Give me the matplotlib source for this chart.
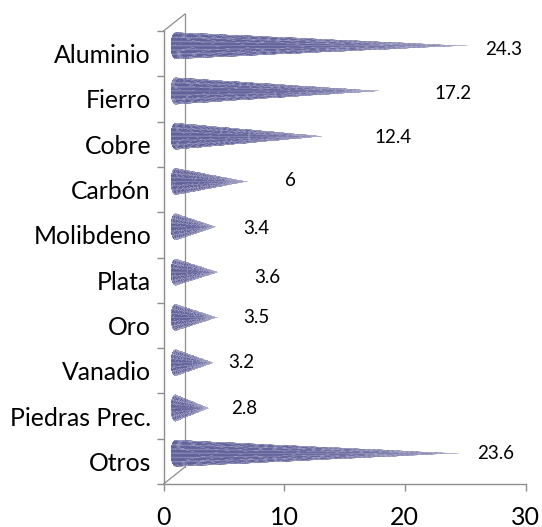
import numpy as np
import matplotlib
matplotlib.use('Agg')
import matplotlib.pyplot as plt
from matplotlib.transforms import ScaledTranslation

plt.rcParams['font.family'] = ['Lato', 'DejaVu Sans']

categories = ['Aluminio', 'Fierro', 'Cobre', 'Carbón', 'Molibdeno', 'Plata', 'Oro', 'Vanadio', 'Piedras Prec.', 'Otros']
values = [24.3, 17.2, 12.4, 6, 3.4, 3.6, 3.5, 3.2, 2.8, 23.6]
value_labels = ['24.3', '17.2', '12.4', '6', '3.4', '3.6', '3.5', '3.2', '2.8', '23.6']
xticks = [0, 10, 20, 30]

# the data labels were moved by hand in the original, offsets in px from the cone tip
label_dx = [35, 70, 68, 43, 40, 48, 39, 27, 35, 35]
label_dy = [-4, -3, -1, 1, -2, -5, 0, 0, 0, 0]

W, H = 542, 527
DPI = 100
GREY = '#8e8e8e'

fig = plt.figure(figsize=(W / DPI, H / DPI), dpi=DPI)
x0, x1 = 163.5, 525.5
ytop, ybot = 31, 484
ax = fig.add_axes([x0 / W, 1 - ybot / H, (x1 - x0) / W, (ybot - ytop) / H])
ax.set_xlim(0, 30)
ax.set_ylim(len(categories), 0)
ax.patch.set_alpha(0)

for s in ['top', 'right']:
    ax.spines[s].set_visible(False)
for s in ['left', 'bottom']:
    ax.spines[s].set_color(GREY)
    ax.spines[s].set_linewidth(1.0)

ax.set_xticks(xticks)
ax.set_xticklabels([str(t) for t in xticks], fontsize=18, color='black')
ax.set_yticks(np.arange(len(categories) + 1))
ax.set_yticklabels([])
ax.tick_params(axis='x', length=5, width=1.0, color=GREY, pad=10.5)
ax.tick_params(axis='y', length=5, width=1.0, color=GREY)

# category names sit on their own, not at the tick marks
for i, name in enumerate(categories):
    ax.annotate(name, xy=(0, i + 0.5), xycoords=('axes fraction', 'data'),
                xytext=(-12.5, -2), textcoords='offset pixels', ha='right', va='center',
                fontsize=17.8, color='black')

# 3d box: back wall and the two diagonals
def px_line(xs, ys):
    ax.plot(np.array(xs) / W, 1 - np.array(ys) / H, transform=fig.transFigure,
            color=GREY, lw=0.9, clip_on=False, zorder=1)

px_line([185, 185], [14, 467])
px_line([x0, 185], [ytop, 14])
px_line([x0, 185], [ybot, 467])

# cones, shifted back into the depth of the box
depth = ax.transData + ScaledTranslation(12 / DPI, 8 / DPI, fig.dpi_scale_trans)
half_h = 13.6 / 45.3
rx = 5.0 * 30 / (x1 - x0)

n_rows, n_cols = 54, 60
f = np.linspace(-1, 1, n_rows + 1)
t = np.linspace(0, 1, n_cols + 1)
dark = np.array([0.31, 0.31, 0.56])
light = np.array([0.68, 0.68, 0.80])

def stripe_colors():
    fc = (f[:-1] + f[1:]) / 2
    tc = (t[:-1] + t[1:]) / 2
    stripes = (0.5 + 0.5 * np.cos(fc * 20)) ** 3
    rgba = np.ones((n_rows, n_cols, 4))
    for j in range(n_cols):
        shade = 0.2 + 0.4 * stripes * (1 - 0.5 * tc[j]) + 0.12 * tc[j] ** 2
        rgba[:, j, :3] = dark[None, :] * (1 - shade[:, None]) + light[None, :] * shade[:, None]
        rgba[:, j, 3] = 1 - 0.4 * tc[j] ** 4
    return rgba

colors = stripe_colors()

for i, v in enumerate(values):
    left = -rx * np.sqrt(np.clip(1 - f ** 2, 0, 1))
    X = np.outer(left, 1 - t) + v * np.ones_like(f)[:, None] * t[None, :]
    Y = (i + 0.5) + np.outer(f * half_h, 1 - t)
    ax.pcolormesh(X, Y, colors, transform=depth, shading='flat', edgecolors='none',
                  antialiased=True, clip_on=False, zorder=3)

for i, lab in enumerate(value_labels):
    ax.annotate(lab, xy=(values[i], i + 0.5), xycoords=depth,
                xytext=(label_dx[i], label_dy[i]), textcoords='offset pixels',
                ha='center', va='center', fontsize=13.5, color='black')

fig.savefig('out.png', dpi=DPI)
